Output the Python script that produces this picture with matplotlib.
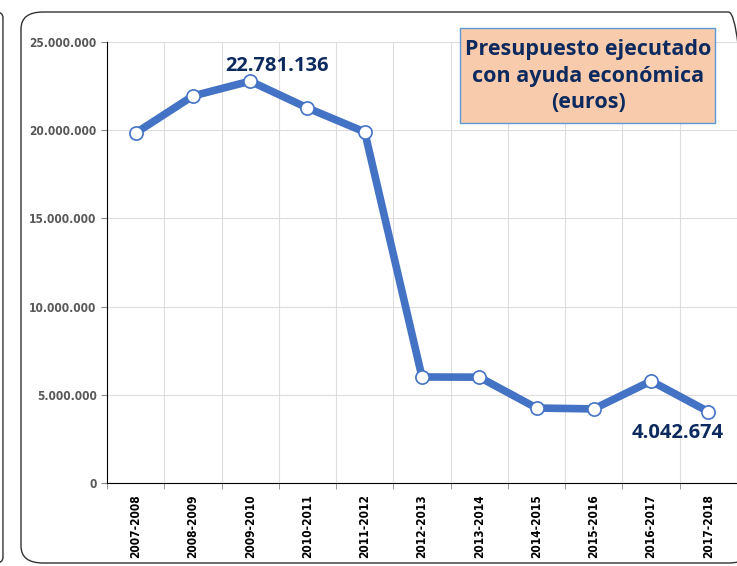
import matplotlib.pyplot as plt
from matplotlib.patches import FancyBboxPatch, Rectangle
from matplotlib.ticker import FuncFormatter

# curso académico y presupuesto ejecutado (euros)
cursos = ['2007-2008', '2008-2009', '2009-2010', '2010-2011', '2011-2012',
          '2012-2013', '2013-2014', '2014-2015', '2015-2016', '2016-2017',
          '2017-2018']
presupuesto = [19840000, 21940000, 22781136, 21260000, 19900000,
               6010000, 6000000, 4250000, 4200000, 5780000, 4042674]
y_ticks = [0, 5000000, 10000000, 15000000, 20000000, 25000000]

navy = '#0D2A5E'
blue = '#4472C4'

fig = plt.figure(figsize=(7.37, 5.66), dpi=100)
fig.patch.set_facecolor('white')

# panel borders (rounded)
fig.patches.append(FancyBboxPatch((21 / 737, 3 / 566), 0.99, 551 / 566,
                                  boxstyle='round,pad=0,rounding_size=0.03',
                                  transform=fig.transFigure, fill=False,
                                  edgecolor='#333333', lw=1.0))
fig.patches.append(FancyBboxPatch((-0.05, 3 / 566), 0.054, 551 / 566,
                                  boxstyle='round,pad=0,rounding_size=0.01',
                                  transform=fig.transFigure, fill=False,
                                  edgecolor='#333333', lw=1.0))

ax = fig.add_axes([107 / 737, 83 / 566, 630 / 737, 441 / 566])
x = list(range(len(cursos)))
ax.plot(x, presupuesto, color=blue, lw=5.5, marker='o', markersize=9.5,
        markerfacecolor='white', markeredgecolor=blue, markeredgewidth=1.2,
        solid_joinstyle='round', clip_on=False, zorder=3)

ax.set_xlim(-0.5, len(cursos) - 0.5)
ax.set_ylim(0, 25000000)
ax.set_yticks(y_ticks)
ax.yaxis.set_major_formatter(FuncFormatter(lambda v, p: f'{int(v):,}'.replace(',', '.')))
ax.set_xticks(x)
ax.set_xticklabels(cursos, rotation=90)
ax.set_xticks([i - 0.5 for i in range(len(cursos) + 1)], minor=True)
ax.tick_params(axis='x', which='major', length=0, pad=8)
ax.tick_params(axis='x', which='minor', length=4, color='#888888')
ax.tick_params(axis='y', length=4, color='#888888', labelcolor='#595959')
for lbl in ax.get_yticklabels() + ax.get_xticklabels():
    lbl.set_family('DejaVu Sans')
    lbl.set_fontweight('bold')
    lbl.set_fontsize(8.6)
    lbl.set_fontstretch('condensed')

ax.grid(True, which='major', axis='y', color='#DDDDDD', lw=0.8)
ax.grid(True, which='minor', axis='x', color='#DDDDDD', lw=0.8)
ax.set_axisbelow(True)
for s in ['top', 'right']:
    ax.spines[s].set_visible(False)
ax.spines['left'].set_color('black')
ax.spines['bottom'].set_color('black')

ax.annotate('22.781.136', (x[2], presupuesto[2]), xytext=(19, 11),
            textcoords='offset points', ha='center', va='center',
            fontsize=14.5, fontweight='bold', color=navy, family='Open Sans')
ax.annotate('4.042.674', (x[10], presupuesto[10]), xytext=(-22, -15),
            textcoords='offset points', ha='center', va='center',
            fontsize=14.5, fontweight='bold', color=navy, family='Open Sans')

# title box
fig.patches.append(Rectangle((460 / 737, 1 - 123 / 566), 255 / 737, 95 / 566,
                             transform=fig.transFigure, facecolor='#F8CBAD',
                             edgecolor='#5B9BD5', lw=1, zorder=5))
fig.text(588 / 737, 1 - 76 / 566,
         'Presupuesto ejecutado\ncon ayuda económica\n(euros)',
         ha='center', va='center', fontsize=15.5, fontweight='bold', color=navy,
         family='Open Sans', linespacing=1.35, zorder=6)

fig.savefig('out.png', dpi=100)
